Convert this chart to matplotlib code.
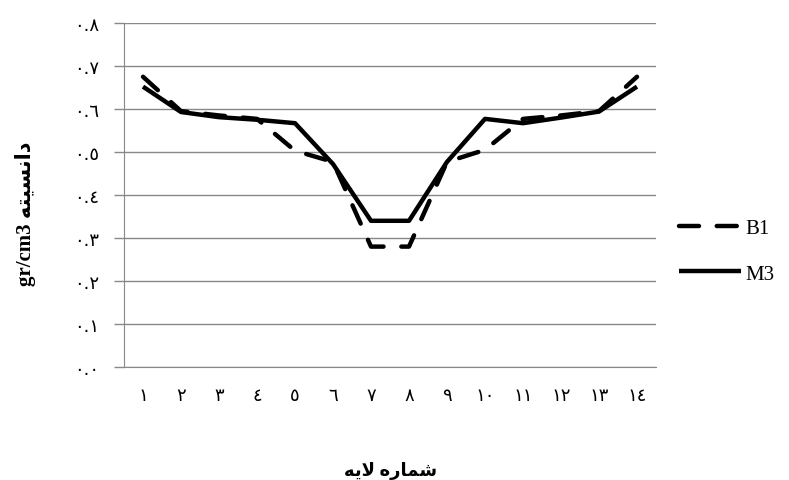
import matplotlib
matplotlib.use('Agg')
import matplotlib.pyplot as plt

layers = ['١', '٢', '٣', '٤', '٥', '٦', '٧', '٨', '٩', '١٠', '١١', '١٢', '١٣', '١٤']
b1 = [0.675, 0.595, 0.585, 0.577, 0.503, 0.477, 0.28, 0.28, 0.477, 0.505, 0.577, 0.585, 0.595, 0.675]
m3 = [0.652, 0.593, 0.581, 0.575, 0.567, 0.472, 0.34, 0.34, 0.477, 0.577, 0.567, 0.58, 0.594, 0.652]
y_ticks = [0.0, 0.1, 0.2, 0.3, 0.4, 0.5, 0.6, 0.7, 0.8]
y_tick_labels = ['٠.٠', '٠.١', '٠.٢', '٠.٣', '٠.٤', '٠.٥', '٠.٦', '٠.٧', '٠.٨']
x_title = 'شماره لایه'
y_title_fa = 'دانسیته'
y_title_unit = 'gr/cm3'

# contextual forms: isolated, final, initial, medial (right-joining letters have only two)
FORMS = {
    'ا': ('\uFE8D', '\uFE8E'),
    'د': ('\uFEA9', '\uFEAA'),
    'ر': ('\uFEAD', '\uFEAE'),
    'ن': ('\uFEE5', '\uFEE6', '\uFEE7', '\uFEE8'),
    'س': ('\uFEB1', '\uFEB2', '\uFEB3', '\uFEB4'),
    'ی': ('\uFBFC', '\uFBFD', '\uFBFE', '\uFBFF'),
    'ت': ('\uFE95', '\uFE96', '\uFE97', '\uFE98'),
    'ه': ('\uFEE9', '\uFEEA', '\uFEEB', '\uFEEC'),
    'ش': ('\uFEB5', '\uFEB6', '\uFEB7', '\uFEB8'),
    'م': ('\uFEE1', '\uFEE2', '\uFEE3', '\uFEE4'),
    'ل': ('\uFEDD', '\uFEDE', '\uFEDF', '\uFEE0'),
}


def shape(text):
    out = []
    chars = list(text)
    i = 0
    while i < len(chars):
        c = chars[i]
        if c not in FORMS:
            out.append(c)
            i += 1
            continue
        prev = chars[i - 1] if i > 0 else None
        joins_prev = prev in FORMS and len(FORMS[prev]) == 4
        if c == 'ل' and i + 1 < len(chars) and chars[i + 1] == 'ا':
            out.append('\uFEFC' if joins_prev else '\uFEFB')
            i += 2
            continue
        nxt = chars[i + 1] if i + 1 < len(chars) else None
        joins_next = len(FORMS[c]) == 4 and nxt in FORMS
        f = FORMS[c]
        if joins_prev and joins_next:
            out.append(f[3])
        elif joins_prev:
            out.append(f[1])
        elif joins_next:
            out.append(f[2])
        else:
            out.append(f[0])
        i += 1
    return ''.join(reversed(out))


fig = plt.figure(figsize=(7.89, 4.81), dpi=100)
ax = fig.add_axes([124 / 789, 1 - 368 / 481, 532 / 789, 344 / 481])

x = list(range(len(layers)))
ax.plot(x, b1, color='black', lw=3.2, linestyle=(0, (4.5, 4)), dash_capstyle='round', label='B1')
ax.plot(x, m3, color='black', lw=3.2, solid_capstyle='butt', label='M3')

ax.set_xlim(-0.5, len(layers) - 0.5)
ax.set_ylim(0, 0.8)
ax.set_yticks(y_ticks, y_tick_labels, fontsize=13, family='DejaVu Sans')
ax.set_xticks(x, layers, fontsize=13, family='DejaVu Sans')
ax.tick_params(axis='y', length=7, color='#888888', width=1, pad=11)
ax.tick_params(axis='x', length=0, pad=14)
ax.grid(axis='y', color='#888888', lw=1)
ax.set_axisbelow(True)
for side in ['top', 'right']:
    ax.spines[side].set_visible(False)
ax.spines['left'].set_color('#888888')
ax.spines['bottom'].set_color('#888888')

fig.text(391 / 789, 1 - 471 / 481, shape(x_title), ha='center', va='center',
         fontsize=13, fontweight='bold', family=['Liberation Serif', 'DejaVu Sans'])
fig.text(26 / 789, 1 - 214 / 481, y_title_unit + ' ' + shape(y_title_fa), rotation=90,
         ha='center', va='center', fontsize=15, fontweight='bold',
         family=['Liberation Serif', 'DejaVu Sans'])

fig.legend(loc='center left', bbox_to_anchor=(660 / 789, 1 - 252 / 481), frameon=False,
           prop={'family': 'Liberation Serif', 'size': 15}, handlelength=3.0,
           handletextpad=0.2, labelspacing=1.25)

fig.savefig('out.png', dpi=100)
